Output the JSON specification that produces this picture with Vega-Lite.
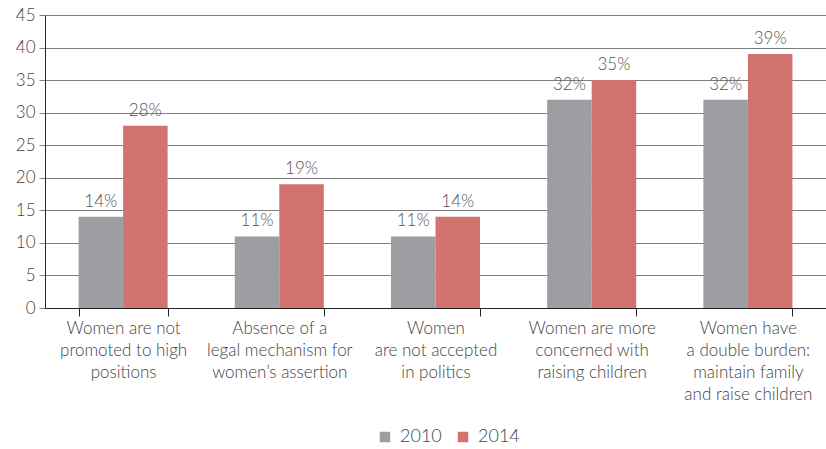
{
  "$schema": "https://vega.github.io/schema/vega-lite/v6.json",
  "width": 781,
  "height": 293,
  "autosize": {"type": "none"},
  "padding": {"left": 45, "top": 15, "right": 0, "bottom": 141},
  "config": {
    "view": {"stroke": null},
    "font": "Lato",
    "axis": {"labelFont": "Lato", "labelColor": "#444", "labelFontSize": 16, "labelFontWeight": 300, "titleFont": "Lato"},
    "legend": {"labelFont": "Lato"}
  },
  "data": {
    "values": [
      {"cat": "Women are not|promoted to high|positions", "year": "2010", "v": 14},
      {"cat": "Women are not|promoted to high|positions", "year": "2014", "v": 28},
      {"cat": "Absence of a|legal mechanism for|women’s assertion", "year": "2010", "v": 11},
      {"cat": "Absence of a|legal mechanism for|women’s assertion", "year": "2014", "v": 19},
      {"cat": "Women|are not accepted|in politics", "year": "2010", "v": 11},
      {"cat": "Women|are not accepted|in politics", "year": "2014", "v": 14},
      {"cat": "Women are more|concerned with|raising children", "year": "2010", "v": 32},
      {"cat": "Women are more|concerned with|raising children", "year": "2014", "v": 35},
      {"cat": "Women have|a double burden:|maintain family|and raise children", "year": "2010", "v": 32},
      {"cat": "Women have|a double burden:|maintain family|and raise children", "year": "2014", "v": 39}
    ]
  },
  "encoding": {
    "x": {
      "field": "cat", "type": "nominal", "sort": null,
      "scale": {"paddingInner": 0.43, "paddingOuter": 0.215},
      "axis": {
        "title": null, "labelAngle": 0, "labelExpr": "isString(datum.value) ? split(datum.value, '|') : ''",
        "labelFontSize": 17, "labelLineHeight": 22, "labelPadding": 4, "labelBaseline": "top",
        "tickBand": "extent", "tickSize": 8, "tickColor": "#222", "domainColor": "#222", "labelLimit": 200
      }
    },
    "xOffset": {"field": "year", "type": "nominal"},
    "y": {
      "field": "v", "type": "quantitative",
      "scale": {"domain": [0, 45]},
      "axis": {
        "title": null, "values": [0,5,10,15,20,25,30,35,40,45], "labelOverlap": false,
        "gridColor": "#808080", "gridWidth": 1, "tickColor": "#808080", "tickSize": 6,
        "domainColor": "#222", "labelPadding": 4, "labelFontSize": 17
      }
    },
    "color": {
      "field": "year", "type": "nominal",
      "scale": {"domain": ["2010", "2014"], "range": ["#9d9ea2", "#d27370"]},
      "legend": {
        "title": null, "orient": "none", "direction": "horizontal",
        "legendX": 331, "legendY": 413, "symbolType": "square", "symbolSize": 110,
        "labelFontSize": 18, "labelFontWeight": 300, "labelColor": "#444", "labelOffset": 6, "columnPadding": 12, "symbolOpacity": 1
      }
    }
  },
  "layer": [
    {"mark": {"type": "bar"}},
    {
      "mark": {"type": "text", "baseline": "alphabetic", "dy": -10, "fontSize": 17, "fontWeight": 300, "font": "Lato"},
      "encoding": {"color": {"value": "#555"}, "text": {"field": "lbl"}},
      "transform": [{"calculate": "datum.v + '%'", "as": "lbl"}]
    }
  ]
}
